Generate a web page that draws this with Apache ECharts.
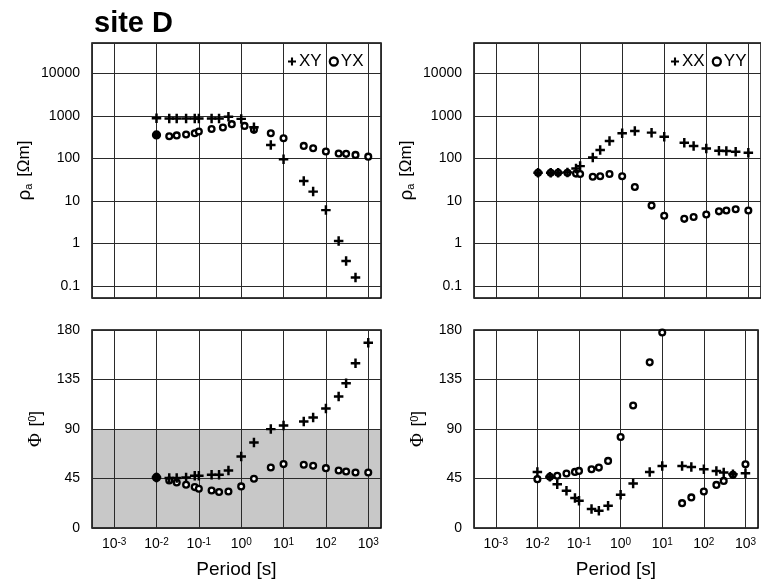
<!DOCTYPE html>
<html><head><meta charset="utf-8">
<script src="https://cdn.jsdelivr.net/npm/echarts@6/dist/echarts.min.js"></script>
<style>html,body{margin:0;padding:0;background:#fff}#c{width:761px;height:586px}</style>
</head><body><div id="c"></div>
<script>
// ---- data ----
const periods = [0.01,0.02,0.03,0.05,0.08,0.1,0.2,0.3,0.5,1,2,5,10,30,50,100,200,300,500,1000];
const periodsRhoYX = [0.01,0.02,0.03,0.05,0.08,0.1,0.2,0.37,0.6,1.2,2,5,10,30,50,100,200,300,500,1000];

const rhoXY = [880,870,870,870,870,870,870,870,950,850,540,208,96,29.5,16.6,6.1,1.15,0.39,0.16,null];
const rhoYX = [357,333,348,365,390,428,490,532,640,582,470,390,298,197,174,145,131,128,121,110];
const phaseXY = [45.9,45.4,45.4,45.9,47.5,47.5,48.4,48.4,52.3,65,77.7,89.9,93.2,96.8,100.4,108.6,119.5,131.6,149.8,168.5];
const phaseYX = [45.9,43.2,41.4,39.3,37.2,35.7,34.1,32.7,33.2,37.8,44.8,55,58.1,57.5,56.6,54.4,52.3,51.4,50.5,50.5];

const rhoXX = [46,46,46,47,58,66,105,157,257,390,443,404,325,234,195,172,152,149,144,136];
const rhoYY = [46,46,46,46,44,43,37,38,43,38,21.4,7.8,4.5,3.8,4.2,4.8,5.7,6.0,6.4,6.0];
const phaseXX = [51,46.5,39.8,33.8,27.2,24.7,17.2,15.7,20.2,30.2,40.4,51,56.4,56.4,55.5,53.4,51.9,50.4,48.9,49.8];
const phaseYY = [44.4,46.5,47.4,49.5,51,51.9,53.4,54.9,61,82.7,111.3,150.6,177.7,22.6,27.8,33.2,39.2,42.8,48.3,57.9];

const xTickExponents = [-3,-2,-1,0,1,2,3];
const rhoTickLabels = ['0.1','1','10','100','1000','10000'];
const phaseTicks = [0,45,90,135,180];
const shadedPhase = [0,90];

// ---- chart ----
const FONT = '"Liberation Sans", Arial, sans-serif';
const PLUS = 'path://M3.7,0H6.3V3.7H10V6.3H6.3V10H3.7V6.3H0V3.7H3.7Z';
const chart = echarts.init(document.getElementById('c'), null, {renderer:'canvas'});

function pairs(xs, ys){ return xs.map((x,i)=>[x, ys[i]]).filter(p=>p[1]!=null); }
function isPow10(v){ const l=Math.log10(v); return Math.abs(l-Math.round(l))<1e-6; }

const GRIDLINE = {show:true, lineStyle:{color:'#2a2a2a', width:1}};

function xAxis(gi, showLabels, z){
  return {
    type:'log', logBase:10, gridIndex:gi, min:0.0003, max:2000, z:z,
    axisLine:{show:false}, axisTick:{show:false}, splitLine:GRIDLINE,
    axisLabel:{show:showLabels, margin:9,
      formatter: v => { if(!isPow10(v)) return ''; const e=Math.round(Math.log10(v));
        return xTickExponents.includes(e) ? '{b|10}{s|'+e+'}' : ''; },
      rich:{ b:{fontSize:14, fontFamily:FONT, color:'#000'},
             s:{fontSize:10, fontFamily:FONT, color:'#000', verticalAlign:'top'} } },
    name: showLabels ? 'Period [s]' : '', nameLocation:'middle', nameGap:32,
    nameTextStyle:{fontSize:19, fontFamily:FONT, color:'#000'}
  };
}
function rhoAxis(gi){
  return {
    type:'log', logBase:10, gridIndex:gi, min:0.0525, max:51600,
    axisLine:{show:false}, axisTick:{show:false}, splitLine:GRIDLINE,
    axisLabel:{margin:12, fontSize:14, fontFamily:FONT, color:'#000',
      formatter: v => isPow10(v) ? (rhoTickLabels[Math.round(Math.log10(v))+1] || '') : ''},
    name:'{r|ρ}{a|a}  {t|[Ωm]}', nameLocation:'middle', nameRotate:90, nameGap:58,
    nameTextStyle:{rich:{
      r:{fontSize:19, fontFamily:FONT, color:'#000'},
      a:{fontSize:11, fontFamily:FONT, color:'#000', verticalAlign:'bottom'},
      t:{fontSize:17, fontFamily:FONT, color:'#000'}}}
  };
}
function phaseAxis(gi, z){
  return {
    type:'value', gridIndex:gi, min:phaseTicks[0], max:phaseTicks[phaseTicks.length-1], interval:45, z:z,
    axisLine:{show:false}, axisTick:{show:false}, splitLine:GRIDLINE,
    axisLabel:{margin:12, fontSize:14, fontFamily:FONT, color:'#000'},
    name:'{p|Φ}  {t|[}{s|0}{t|]}', nameLocation:'middle', nameRotate:90, nameGap:46,
    nameTextStyle:{rich:{
      p:{fontSize:19, fontFamily:'"Liberation Serif", serif', color:'#000'},
      t:{fontSize:17, fontFamily:FONT, color:'#000'},
      s:{fontSize:11, fontFamily:FONT, color:'#000', verticalAlign:'top'}}}
  };
}

function circleSeries(name, xi, xs, ys, extra){
  const data = pairs(xs, ys).map((p,i)=> i===0 && extra && extra.firstFilled ? {value:p, symbolSize:7, itemStyle:{color:'#000'}} : p);
  return Object.assign({
    type:'scatter', name, xAxisIndex:xi, yAxisIndex:xi, data,
    symbol:'circle', symbolSize:5.8,
    itemStyle:{color:'#fff', borderColor:'#000', borderWidth:2.3, opacity:1},
    emphasis:{disabled:true}, z:2
  }, extra && extra.more ? extra.more : {});
}
function plusSeries(name, xi, xs, ys){
  return {
    type:'scatter', name, xAxisIndex:xi, yAxisIndex:xi, data:pairs(xs, ys),
    symbol:PLUS, symbolSize:9.5, itemStyle:{color:'#000', opacity:1}, emphasis:{disabled:true}, z:3
  };
}

const legendText = {fontSize:17, fontFamily:FONT, color:'#000', padding:[0,0,0,-2]};
const circleIcon = {color:'#fff', borderColor:'#000', borderWidth:2.3};
const option = {
  animation:false,
  backgroundColor:'#fff',
  title:{text:'site D', left:89, top:4, textStyle:{fontSize:29, fontWeight:'bold', fontFamily:FONT, color:'#000'}},
  legend:[
    {left:283, top:48, itemGap:7, itemWidth:8, itemHeight:8, textStyle:legendText,
     data:[{name:'XY', icon:PLUS}, {name:'YX', icon:'circle', itemStyle:circleIcon}]},
    {left:666, top:48, itemGap:7, itemWidth:8, itemHeight:8, textStyle:legendText,
     data:[{name:'XX', icon:PLUS}, {name:'YY', icon:'circle', itemStyle:circleIcon}]}
  ],
  grid:[
    {left:92, top:43, width:289, height:255, show:true, borderColor:'#000', borderWidth:1.5, backgroundColor:'transparent'},
    {left:474, top:43, width:290, height:255, show:true, borderColor:'#000', borderWidth:1.5, backgroundColor:'transparent'},
    {left:92, top:330, width:289, height:198, show:true, borderColor:'#000', borderWidth:1.5, backgroundColor:'transparent', z:1.5},
    {left:474, top:330, width:290, height:198, show:true, borderColor:'#000', borderWidth:1.5, backgroundColor:'transparent'}
  ],
  xAxis:[xAxis(0,false,0), xAxis(1,false,0), xAxis(2,true,1.5), xAxis(3,true,0)],
  yAxis:[rhoAxis(0), rhoAxis(1), phaseAxis(2,1.5), phaseAxis(3,0)],
  series:[
    circleSeries('YX', 0, periodsRhoYX, rhoYX, {firstFilled:true}),
    plusSeries('XY', 0, periods, rhoXY),
    circleSeries('YY', 1, periods, rhoYY),
    plusSeries('XX', 1, periods, rhoXX),
    circleSeries('YX', 2, periods, phaseYX, {firstFilled:true, more:{
      markArea:{silent:true, itemStyle:{color:'#c8c8c8'}, data:[[{yAxis:shadedPhase[0]},{yAxis:shadedPhase[1]}]]}}}),
    plusSeries('XY', 2, periods, phaseXY),
    circleSeries('YY', 3, periods, phaseYY),
    plusSeries('XX', 3, periods, phaseXX)
  ]
};
chart.setOption(option);
</script></body></html>
